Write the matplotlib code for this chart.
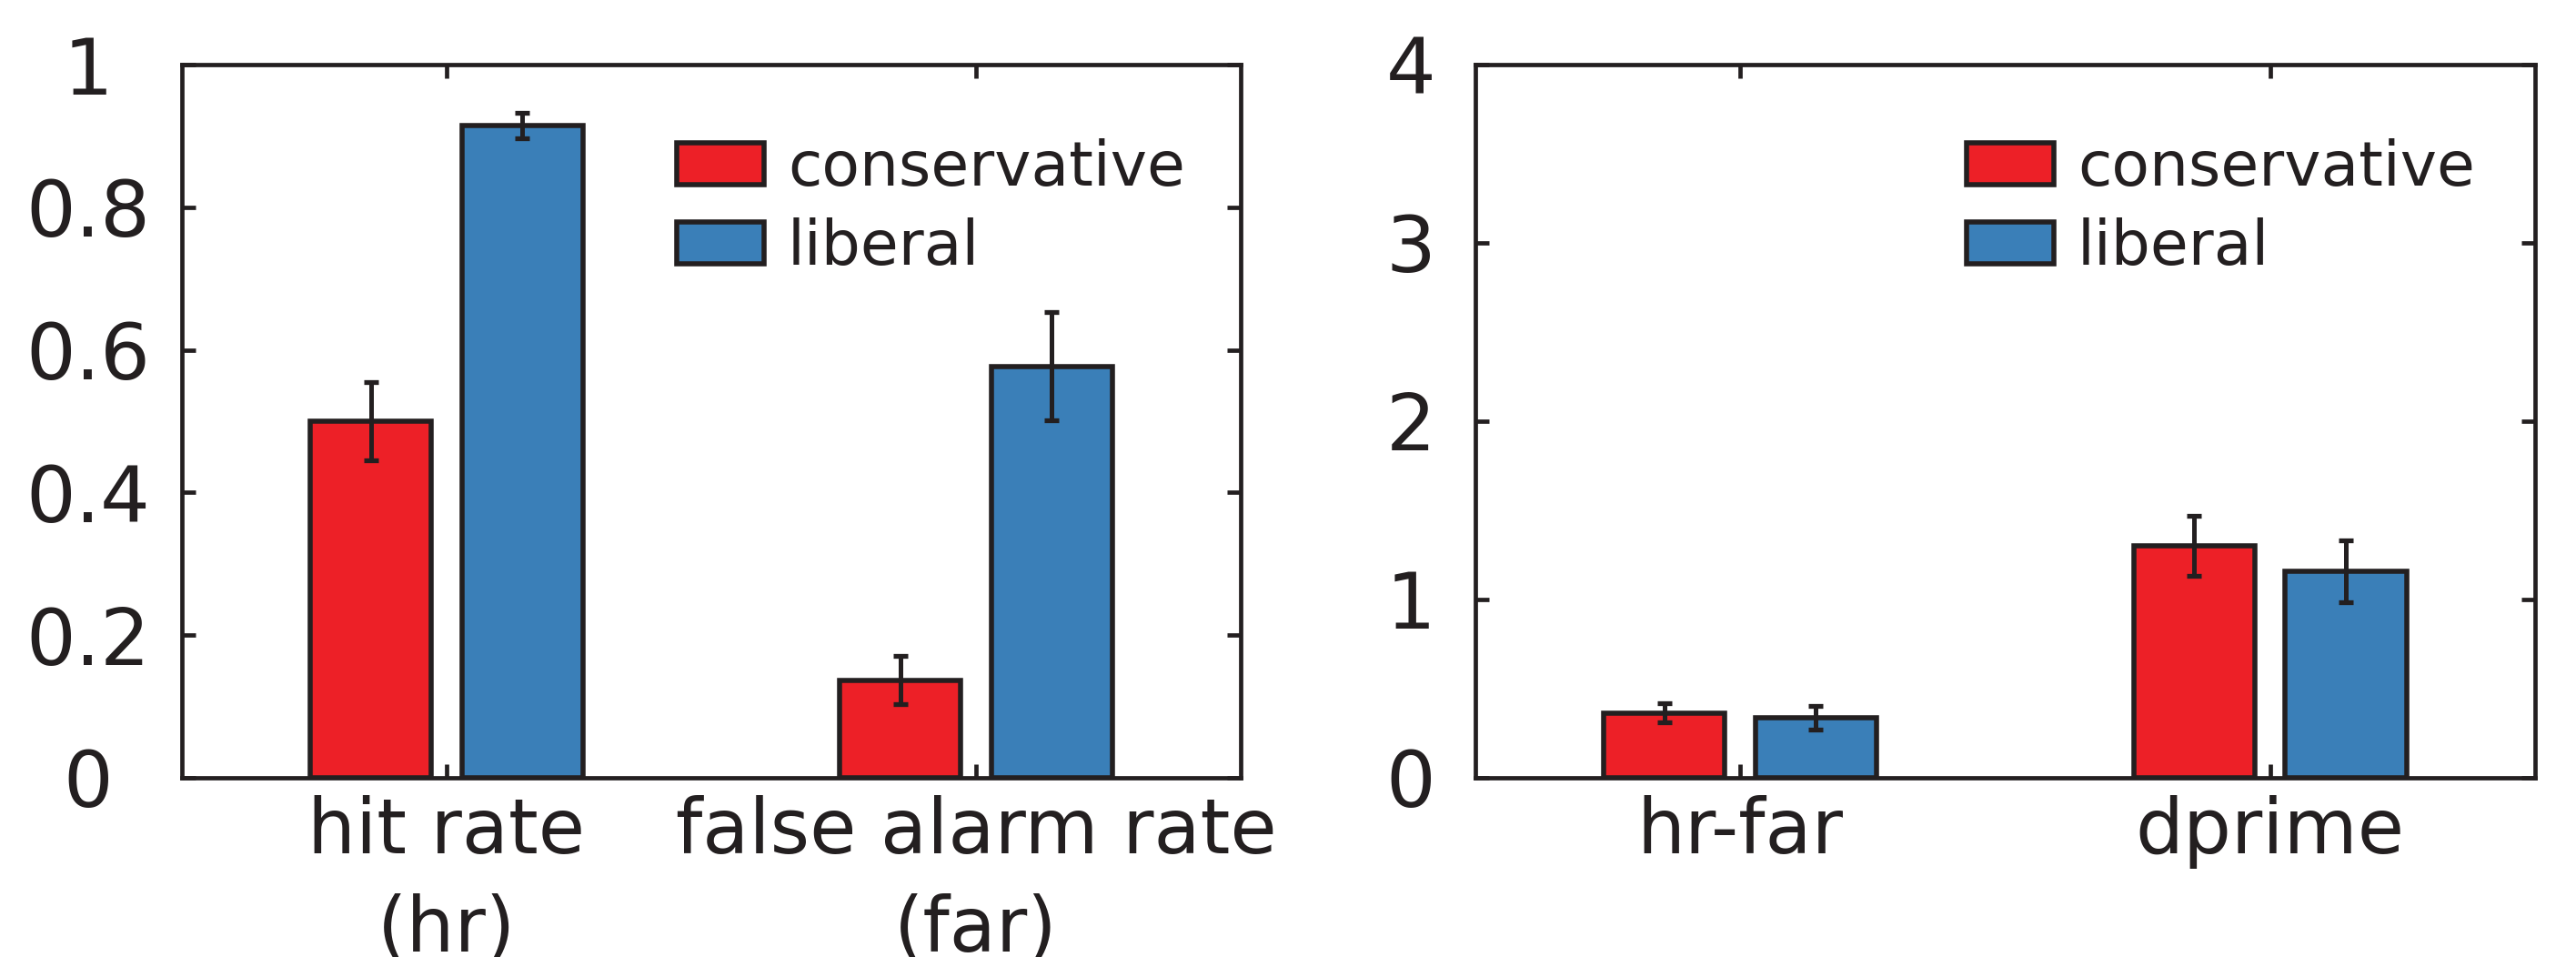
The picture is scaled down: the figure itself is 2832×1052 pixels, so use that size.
import matplotlib
matplotlib.use("Agg")
import matplotlib.pyplot as plt
import numpy as np

# 数据
groupsRate = ["hit rate\n(hr)", "false alarm rate\n(far)"]
consRate = [0.500, 0.137]
consRateErr = [0.055, 0.034]
libRate = [0.915, 0.577]
libRateErr = [0.018, 0.076]

groupsSens = ["hr-far", "dprime"]
consSens = [0.363, 1.301]
consSensErr = [0.053, 0.166]
libSens = [0.336, 1.158]
libSensErr = [0.068, 0.175]

yticksRate = [0, 0.2, 0.4, 0.6, 0.8, 1]
yticklabelsRate = ["0", "0.2", "0.4", "0.6", "0.8", "1"]
yticksSens = [0, 1, 2, 3, 4]
yticklabelsSens = ["0", "1", "2", "3", "4"]

RED = "#ED2027"
BLUE = "#3A7FB8"
EDGE = "#231F20"


# 画一组柱状图
def drawBars(ax, groups, cons, consErr, lib, libErr, yticks, yticklabels, ylim, ypad, legendX):
    x = np.arange(1, len(groups) + 1)
    width = 0.2286
    off = 0.1429
    ax.bar(x - off, cons, width, color=RED, edgecolor=EDGE,
           linewidth=4.0, label="conservative")
    ax.bar(x + off, lib, width, color=BLUE, edgecolor=EDGE,
           linewidth=4.0, label="liberal")
    # 误差棒单独画
    for xs, ys, es in ((x - off, cons, consErr), (x + off, lib, libErr)):
        ax.errorbar(xs, ys, yerr=es, fmt="none", ecolor=EDGE, elinewidth=3.6,
                    capsize=6.1, capthick=3.8, zorder=3)

    ax.set_xlim(0.5, len(groups) + 0.5)
    ax.set_ylim(*ylim)
    ax.set_xticks(x)
    ax.set_xticklabels(groups, fontsize=60, color=EDGE)
    ax.set_yticks(yticks)
    ax.set_yticklabels(yticklabels, fontsize=62, color=EDGE)

    for s in ax.spines.values():
        s.set_linewidth(3.4)
        s.set_color(EDGE)
    ax.tick_params(direction="in", top=True, right=True, length=10.5,
                   width=3.4, color=EDGE)
    ax.tick_params(axis="x", pad=14)
    ax.tick_params(axis="y", pad=ypad)
    for lbl in ax.get_yticklabels():
        lbl.set_ha("center")
    for lbl in ax.get_xticklabels():
        lbl.set_linespacing(1.4)

    leg = ax.legend(loc="upper left", bbox_to_anchor=(legendX, 0.8967),
                    frameon=False, fontsize=49, handlelength=1.41,
                    handleheight=0.66, handletextpad=0.375, labelspacing=0.31,
                    borderpad=0, borderaxespad=0)
    for t in leg.get_texts():
        t.set_color(EDGE)


fig = plt.figure(figsize=(28.32, 10.52), dpi=100)
ax1 = fig.add_axes([0.0706, 0.1873, 0.411, 0.7452])
ax2 = fig.add_axes([0.5727, 0.1873, 0.4114, 0.7452])

drawBars(ax1, groupsRate, consRate, consRateErr, libRate, libRateErr,
         yticksRate, yticklabelsRate, (0, 1), 74, 0.4677)
drawBars(ax2, groupsSens, consSens, consSensErr, libSens, libSensErr,
         yticksSens, yticklabelsSens, (0, 4), 51, 0.4639)

fig.savefig("out.png", dpi=100)
